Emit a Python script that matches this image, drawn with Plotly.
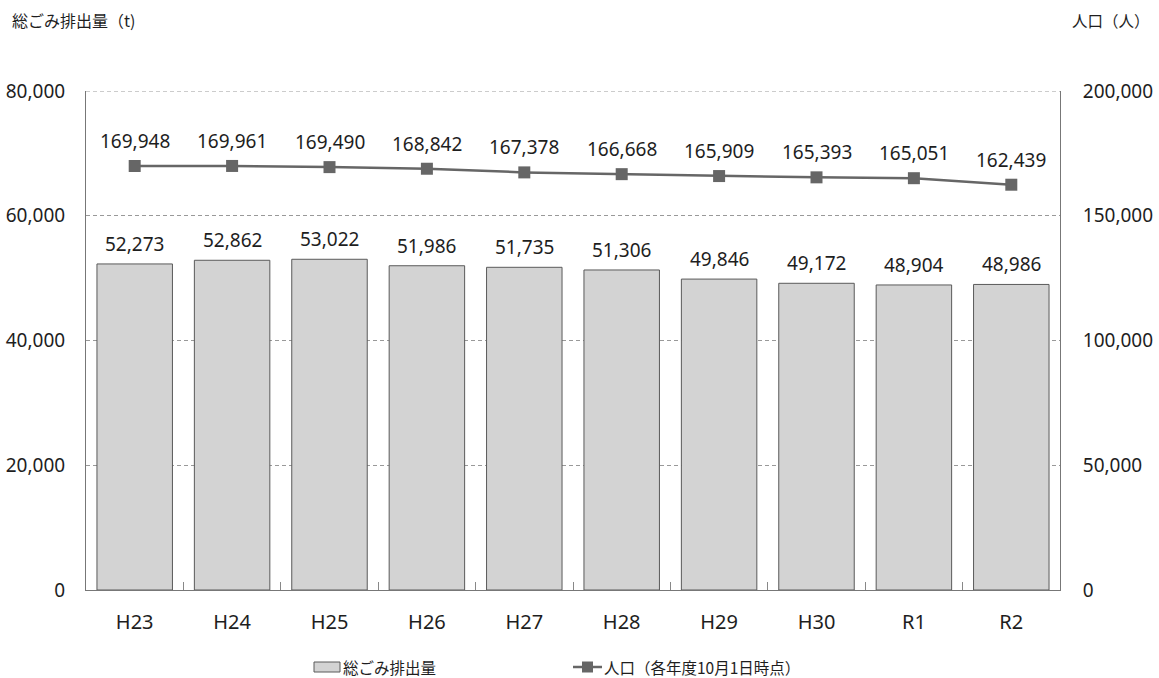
import plotly.graph_objects as go

years = ["H23", "H24", "H25", "H26", "H27", "H28", "H29", "H30", "R1", "R2"]
waste_t = [52273, 52862, 53022, 51986, 51735, 51306, 49846, 49172, 48904, 48986]
population = [169948, 169961, 169490, 168842, 167378, 166668, 165909, 165393, 165051, 162439]

num_font = "Noto Sans, Open Sans, sans-serif"
jp_font = "Noto Sans CJK JP, Noto Sans, sans-serif"
txt = "#1e1e1e"

W, H = 1159, 678
L, R, T, B = 86, 99, 91, 88
PW, PH = W - L - R, H - T - B


def px(x):
    return (x - L) / PW


def py(y):
    return (H - B - y) / PH


fig = go.Figure()

fig.add_trace(go.Bar(
    x=years, y=waste_t, name="総ごみ排出量",
    marker=dict(color="#d3d3d3", line=dict(color="#5a5a5a", width=1)),
    width=0.775, showlegend=False,
))

fig.add_trace(go.Scatter(
    x=years, y=population, name="人口（各年度10月1日時点）", yaxis="y2",
    mode="lines+markers",
    line=dict(color="#666666", width=2.5),
    marker=dict(symbol="square", size=12, color="#666666"),
    cliponaxis=False, showlegend=False,
))

annotations = []
# value labels above bars and line markers
for yr, v in zip(years, waste_t):
    annotations.append(dict(x=yr, y=v, xref="x", yref="y", text=f"{v:,}",
                            showarrow=False, yanchor="middle", yshift=20,
                            font=dict(family=num_font, size=19, color=txt)))
for yr, v in zip(years, population):
    annotations.append(dict(x=yr, y=v, xref="x", yref="y2", text=f"{v:,}",
                            showarrow=False, yanchor="middle", yshift=25,
                            font=dict(family=num_font, size=19, color=txt)))

# axis titles
annotations.append(dict(text="総ごみ排出量（t)", xref="paper", yref="paper",
                        x=px(10), y=py(20), xanchor="left", yanchor="middle",
                        showarrow=False, font=dict(family=jp_font, size=16, color=txt)))
annotations.append(dict(text="人口（人）", xref="paper", yref="paper",
                        x=px(1070), y=py(20), xanchor="left", yanchor="middle",
                        showarrow=False, font=dict(family=jp_font, size=15.5, color=txt)))

# legend entries
leg_y = 667
annotations.append(dict(text="総ごみ排出量", xref="paper", yref="paper",
                        x=px(341), y=py(leg_y), xanchor="left", yanchor="middle",
                        showarrow=False, font=dict(family=jp_font, size=15.5, color=txt)))
annotations.append(dict(text="人口（各年度10月1日時点）", xref="paper", yref="paper",
                        x=px(602), y=py(leg_y), xanchor="left", yanchor="middle",
                        showarrow=False, font=dict(family=jp_font, size=15.5, color=txt)))

shapes = [
    # dashed top gridline at the range maximum
    dict(type="line", xref="paper", yref="y", x0=0, x1=1, y0=80000, y1=80000,
         line=dict(color="#999999", width=1, dash="4px,3px"), layer="below"),
    # legend symbols
    dict(type="rect", xref="paper", yref="paper",
         x0=px(314), x1=px(340), y0=py(672), y1=py(662),
         fillcolor="#d3d3d3", line=dict(color="#5a5a5a", width=1)),
    dict(type="line", xref="paper", yref="paper",
         x0=px(573), x1=px(602), y0=py(leg_y), y1=py(leg_y),
         line=dict(color="#666666", width=2.5)),
    dict(type="rect", xref="paper", yref="paper",
         x0=px(582), x1=px(593), y0=py(leg_y + 5.5), y1=py(leg_y - 5.5),
         fillcolor="#666666", line=dict(color="#666666", width=0)),
]

fig.update_layout(
    width=W, height=H,
    margin=dict(l=L, r=R, t=T, b=B, autoexpand=False),
    paper_bgcolor="white", plot_bgcolor="white",
    showlegend=False,
    xaxis=dict(
        type="category", range=[-0.5, len(years) - 0.5],
        showline=True, linecolor="#777", linewidth=1,
        ticks="inside", tickson="boundaries", ticklen=8, tickcolor="#888",
        tickfont=dict(family=num_font, size=20, color=txt),
        ticklabelstandoff=14,
        showgrid=False,
    ),
    yaxis=dict(
        range=[0, 80000], tickvals=[0, 20000, 40000, 60000, 80000],
        tickformat=",", showline=True, linecolor="#777", linewidth=1,
        showgrid=True, gridcolor="#999", griddash="4px,3px", gridwidth=1,
        zeroline=False, ticklabelstandoff=16,
        tickfont=dict(family=num_font, size=19, color=txt),
    ),
    yaxis2=dict(
        range=[0, 200000], tickvals=[0, 50000, 100000, 150000, 200000],
        tickformat=",", overlaying="y", side="right",
        showline=True, linecolor="#777", linewidth=1,
        showgrid=False, zeroline=False, ticklabelstandoff=18,
        tickfont=dict(family=num_font, size=19, color=txt),
    ),
    annotations=annotations,
    shapes=shapes,
)

fig.write_html("out.html")
